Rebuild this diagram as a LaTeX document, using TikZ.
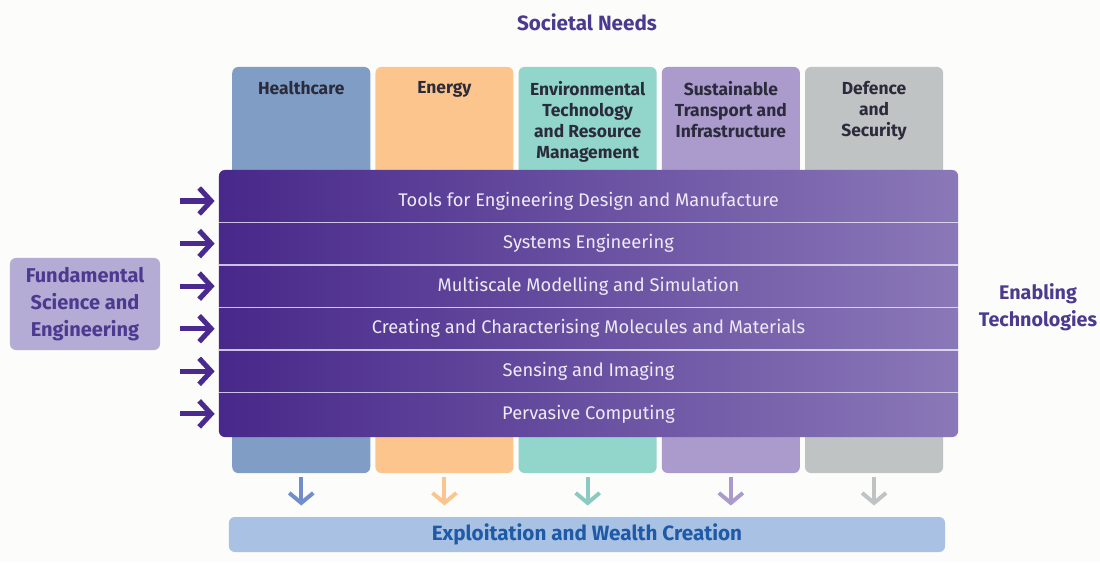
\documentclass[tikz,border=0pt]{standalone}
\usepackage{fontspec}
\setmainfont{Fira Sans}
\usetikzlibrary{arrows.meta,positioning,calc}

\definecolor{paper}{HTML}{FCFCFA}
\definecolor{headtext}{HTML}{4B3A8F}
\definecolor{labeltext}{HTML}{2B2B3B}
\definecolor{rowtext}{HTML}{EEEAF6}
\definecolor{health}{HTML}{7F9DC5}
\definecolor{energy}{HTML}{FCC58E}
\definecolor{environ}{HTML}{91D5CB}
\definecolor{transport}{HTML}{AB9BCC}
\definecolor{defence}{HTML}{BFC3C4}
\definecolor{bandleft}{HTML}{48288A}
\definecolor{bandright}{HTML}{8A78B8}
\definecolor{fundfill}{HTML}{B4ACD4}
\definecolor{wealthfill}{HTML}{A9C1E3}
\definecolor{wealthtext}{HTML}{1F5AA6}
\definecolor{feedarrow}{HTML}{4A2A8E}

\begin{document}
\begin{tikzpicture}[x=0.025cm, y=-0.025cm, >=stealth]
	\tikzstyle{column} = [rounded corners=0.15cm, minimum width=3.45cm, minimum height=10.15cm, inner sep=0pt]
	\tikzstyle{collabel} = [align=center, inner sep=0pt, text=labeltext, font=\fontsize{12.4}{15}\selectfont\bfseries]
	\tikzstyle{band} = [rounded corners=0.15cm, minimum width=18.475cm, minimum height=6.675cm, inner sep=0pt, left color=bandleft, right color=bandright]
	\tikzstyle{tech} = [minimum width=18.475cm, minimum height=1.05cm, inner sep=0pt, text=rowtext, font=\fontsize{13}{15}\selectfont]
	\tikzstyle{heading} = [align=center, text=headtext, font=\fontsize{14.2}{19}\selectfont\bfseries]
	\tikzstyle{feed} = [line width=3.6pt, draw=feedarrow, -{Straight Barb[length=0.3cm, width=0.65cm]}, shorten <=0.5cm, shorten >=0.1cm]
	\tikzstyle{outflow} = [line width=2.8pt, -{Straight Barb[length=0.25cm, width=0.6cm]}, shorten <=0.08cm, shorten >=0.28cm]
	\useasboundingbox[fill=paper] (0,0) rectangle (1100,562);

	% societal needs columns
	\node[heading, font=\fontsize{14.7}{17}\selectfont\bfseries] (needs) at (587,22) {Societal Needs};
	\node[column, fill=health] (hc) at (301.25,270) {};
	\node[column, fill=energy, right=0.115cm of hc] (en) {};
	\node[column, fill=environ, right=0.115cm of en] (ev) {};
	\node[column, fill=transport, right=0.115cm of ev] (tr) {};
	\node[column, fill=defence, right=0.115cm of tr] (df) {};
	\node[collabel, below=0.36cm of hc.north] (hcl) {Healthcare};
	\node[collabel, below=0.36cm of en.north] (enl) {Energy};
	\node[collabel, below=0.36cm of ev.north] (evl) {Environmental\\Technology\\and Resource\\Management};
	\node[collabel, below=0.36cm of tr.north] (trl) {Sustainable\\Transport and\\Infrastructure};
	\node[collabel, below=0.36cm of df.north] (dfl) {Defence\\and\\Security};

	% enabling technologies band
	\node[band] (band) at (588.5,303.5) {};
	\node[tech] (r1) at (588.5,201) {Tools for Engineering Design and Manufacture};
	\node[tech, below=0pt of r1] (r2) {Systems Engineering};
	\node[tech, below=0pt of r2] (r3) {Multiscale Modelling and Simulation};
	\node[tech, below=0pt of r3] (r4) {Creating and Characterising Molecules and Materials};
	\node[tech, below=0pt of r4] (r5) {Sensing and Imaging};
	\node[tech, below=0pt of r5] (r6) {Pervasive Computing};
	\foreach \i in {1,...,5}
	  \draw[rowtext, line width=0.9pt, opacity=0.8] (r\i.south -| band.west) -- (r\i.south -| band.east);
	\foreach \a/\b in {hc/en, en/ev, ev/tr, tr/df}
	  \draw[white, line width=0.8pt, opacity=0.25] ($(\a.east)!0.5!(\b.west)$ |- band.north) -- ($(\a.east)!0.5!(\b.west)$ |- band.south);

	% side labels
	\node[heading, fill=fundfill, rounded corners=0.15cm, minimum width=3.75cm, minimum height=2.3cm, inner sep=0pt] (fse) at (85,304) {Fundamental\\Science and\\Engineering};
	\node[heading, font=\fontsize{14}{19}\selectfont\bfseries] (enab) at (1038,307) {Enabling\\Technologies};
	\foreach \i in {1,...,6}
	  \draw[feed] (r\i.west -| fse.east) -- (r\i.west);

	% exploitation
	\node[rounded corners=0.15cm, fill=wealthfill, minimum width=17.9cm, minimum height=0.875cm, inner sep=0pt, text=wealthtext, font=\fontsize{14.7}{17}\selectfont\bfseries] (ewc) at (587,534.5) {Exploitation and Wealth Creation};
	\draw[outflow, draw=health!90!blue] (hc.south) -- (hc.south |- ewc.north);
	\draw[outflow, draw=energy] (en.south) -- (en.south |- ewc.north);
	\draw[outflow, draw=environ!95!black] (ev.south) -- (ev.south |- ewc.north);
	\draw[outflow, draw=transport] (tr.south) -- (tr.south |- ewc.north);
	\draw[outflow, draw=defence] (df.south) -- (df.south |- ewc.north);
\end{tikzpicture}
\end{document}
